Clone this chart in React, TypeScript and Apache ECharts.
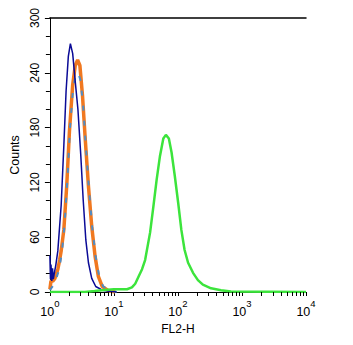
import React, { useEffect, useRef } from "react";
import * as echarts from "echarts";

// ---- data ----
const blueX = [1.0, 1.02, 1.04, 1.07, 1.1, 1.13, 1.17, 1.24, 1.33, 1.5, 1.65, 1.79, 1.94, 2.09, 2.27, 2.49, 2.74, 3.04, 3.31, 3.64, 4.0, 4.5, 5.2, 6.6, 9.0, 11];
const blueY = [40, 14, 30, 12, 26, 14, 20, 30, 45, 95, 160, 220, 258, 272, 261, 230, 200, 149, 101, 57, 32, 15, 6, 2, 0.5, 0];

const orangeX = [1.0, 1.04, 1.11, 1.2, 1.33, 1.42, 1.5, 1.65, 1.83, 2.02, 2.27, 2.49, 2.71, 2.94, 3.23, 3.56, 4.0, 4.5, 5.08, 5.71, 6.58, 8.4, 10.5];
const orangeY = [3, 12, 12, 15, 25, 35, 45, 68, 116, 176, 227, 248, 254, 248, 215, 168, 116, 72, 39, 17, 6, 1, 0];

const steelX = [1.0, 1.2, 1.4, 1.55, 1.7, 1.88, 2.06, 2.3, 2.53, 2.76, 3.0, 3.3, 3.64, 4.08, 4.6, 5.2, 5.9, 6.8, 8.6, 11];
const steelY = [2, 10, 25, 45, 75, 125, 180, 222, 238, 240, 232, 205, 160, 112, 70, 38, 17, 6, 1.5, 0];

const greenX = [1.0, 3.5, 5, 6.5, 8, 10, 13, 16, 19.1, 21.5, 24.3, 27.5, 30.7, 36.7, 41.4, 46.5, 52.4, 59.1, 64.8, 72.1, 79.4, 89.3, 100.7, 113, 127, 144, 172, 205, 245, 329, 470, 670, 10000];
const greenY = [0, 0, 1, 2, 2.5, 3, 3, 3, 5, 9, 17, 25, 35, 65, 94, 123, 149, 168, 172, 168, 153, 127, 98, 68, 46, 32, 21, 13, 8, 4, 2, 0.5, 0];

const xTickExponents = ["0", "1", "2", "3", "4"];
const xMinorTicks = [2, 3, 4, 5, 6, 7, 8, 9, 20, 30, 40, 50, 60, 70, 80, 90, 200, 300, 400, 500, 600, 700, 800, 900, 2000, 3000, 4000, 5000, 6000, 7000, 8000, 9000];
const yTicks = [0, 60, 120, 180, 240, 300];

const FONT = "'Liberation Sans', Arial, Helvetica, sans-serif";

const zip = (xs: number[], ys: number[]) => xs.map((x, i) => [x, ys[i]]);

export default function App() {
  const ref = useRef<HTMLDivElement>(null);
  useEffect(() => {
    if (!ref.current) return;
    const chart = echarts.init(ref.current, null, { renderer: "svg" });
    chart.setOption({
      animation: false,
      backgroundColor: "#ffffff",
      grid: { left: 46, right: 47, top: 18, bottom: 53 },
      xAxis: [
        {
          type: "log",
          logBase: 10,
          min: 1,
          max: 10000,
          name: "FL2-H",
          nameLocation: "middle",
          nameGap: 25,
          nameTextStyle: { fontFamily: FONT, fontSize: 12, color: "#000" },
          axisLine: { show: true, lineStyle: { color: "#000", width: 1 } },
          axisTick: { show: true, inside: false, length: 4, lineStyle: { color: "#000" } },
          splitLine: { show: false },
          axisLabel: {
            margin: 6,
            formatter: (v: number) => {
              const idx = Math.round(Math.log10(v));
              return `{b|10}{s|${xTickExponents[idx] ?? ""}}`;
            },
            rich: {
              b: { fontFamily: FONT, fontSize: 12.5, color: "#000", lineHeight: 20, verticalAlign: "bottom" },
              s: { fontFamily: FONT, fontSize: 9.5, color: "#000", lineHeight: 8, verticalAlign: "top" },
            },
          },
        },
        {
          type: "log",
          logBase: 10,
          min: 1,
          max: 10000,
          position: "top",
          axisLine: { show: true, lineStyle: { color: "#000", width: 1.5 } },
          axisTick: { show: false },
          axisLabel: { show: false },
          splitLine: { show: false },
        },
      ],
      yAxis: {
        type: "value",
        min: yTicks[0],
        max: yTicks[yTicks.length - 1],
        interval: 60,
        name: "Counts",
        nameLocation: "middle",
        nameGap: 23,
        nameTextStyle: { fontFamily: FONT, fontSize: 12.5, color: "#000" },
        axisLine: { show: true, lineStyle: { color: "#000", width: 1 } },
        axisTick: { show: true, inside: false, length: 5, lineStyle: { color: "#000" } },
        minorTick: { show: true, splitNumber: 3, length: 4, lineStyle: { color: "#000" } },
        splitLine: { show: false },
        axisLabel: { rotate: 90, margin: 9, fontFamily: FONT, fontSize: 12, color: "#000" },
      },
      series: [
        {
          type: "line",
          data: zip(orangeX, orangeY),
          showSymbol: false,
          lineStyle: { color: "#f07820", width: 3.5 },
          z: 2,
        },
        {
          type: "line",
          data: zip(steelX, steelY),
          showSymbol: false,
          lineStyle: { color: "#4f8cc4", width: 2, type: [5, 10] },
          z: 3,
        },
        {
          type: "line",
          data: zip(blueX, blueY),
          showSymbol: false,
          lineStyle: { color: "#0a0a96", width: 1.5 },
          z: 4,
        },
        {
          type: "line",
          data: zip(greenX, greenY),
          showSymbol: false,
          lineStyle: { color: "#3ce43c", width: 2.5 },
          z: 5,
        },
        {
          type: "custom",
          data: xMinorTicks.map((v) => [v, 0]),
          clip: false,
          silent: true,
          z: 6,
          renderItem: (_params: any, api: any) => {
            const p = api.coord([api.value(0), 0]);
            const x = Math.round(p[0]) + 0.5;
            return {
              type: "line",
              shape: { x1: x, y1: p[1], x2: x, y2: p[1] + 4 },
              style: { stroke: "#000", lineWidth: 1 },
            };
          },
        },
      ],
    });
    return () => chart.dispose();
  }, []);
  return (
    <div
      ref={ref}
      style={{ position: "absolute", left: 0, top: 0, width: 353, height: 345, background: "#fff" }}
    />
  );
}
